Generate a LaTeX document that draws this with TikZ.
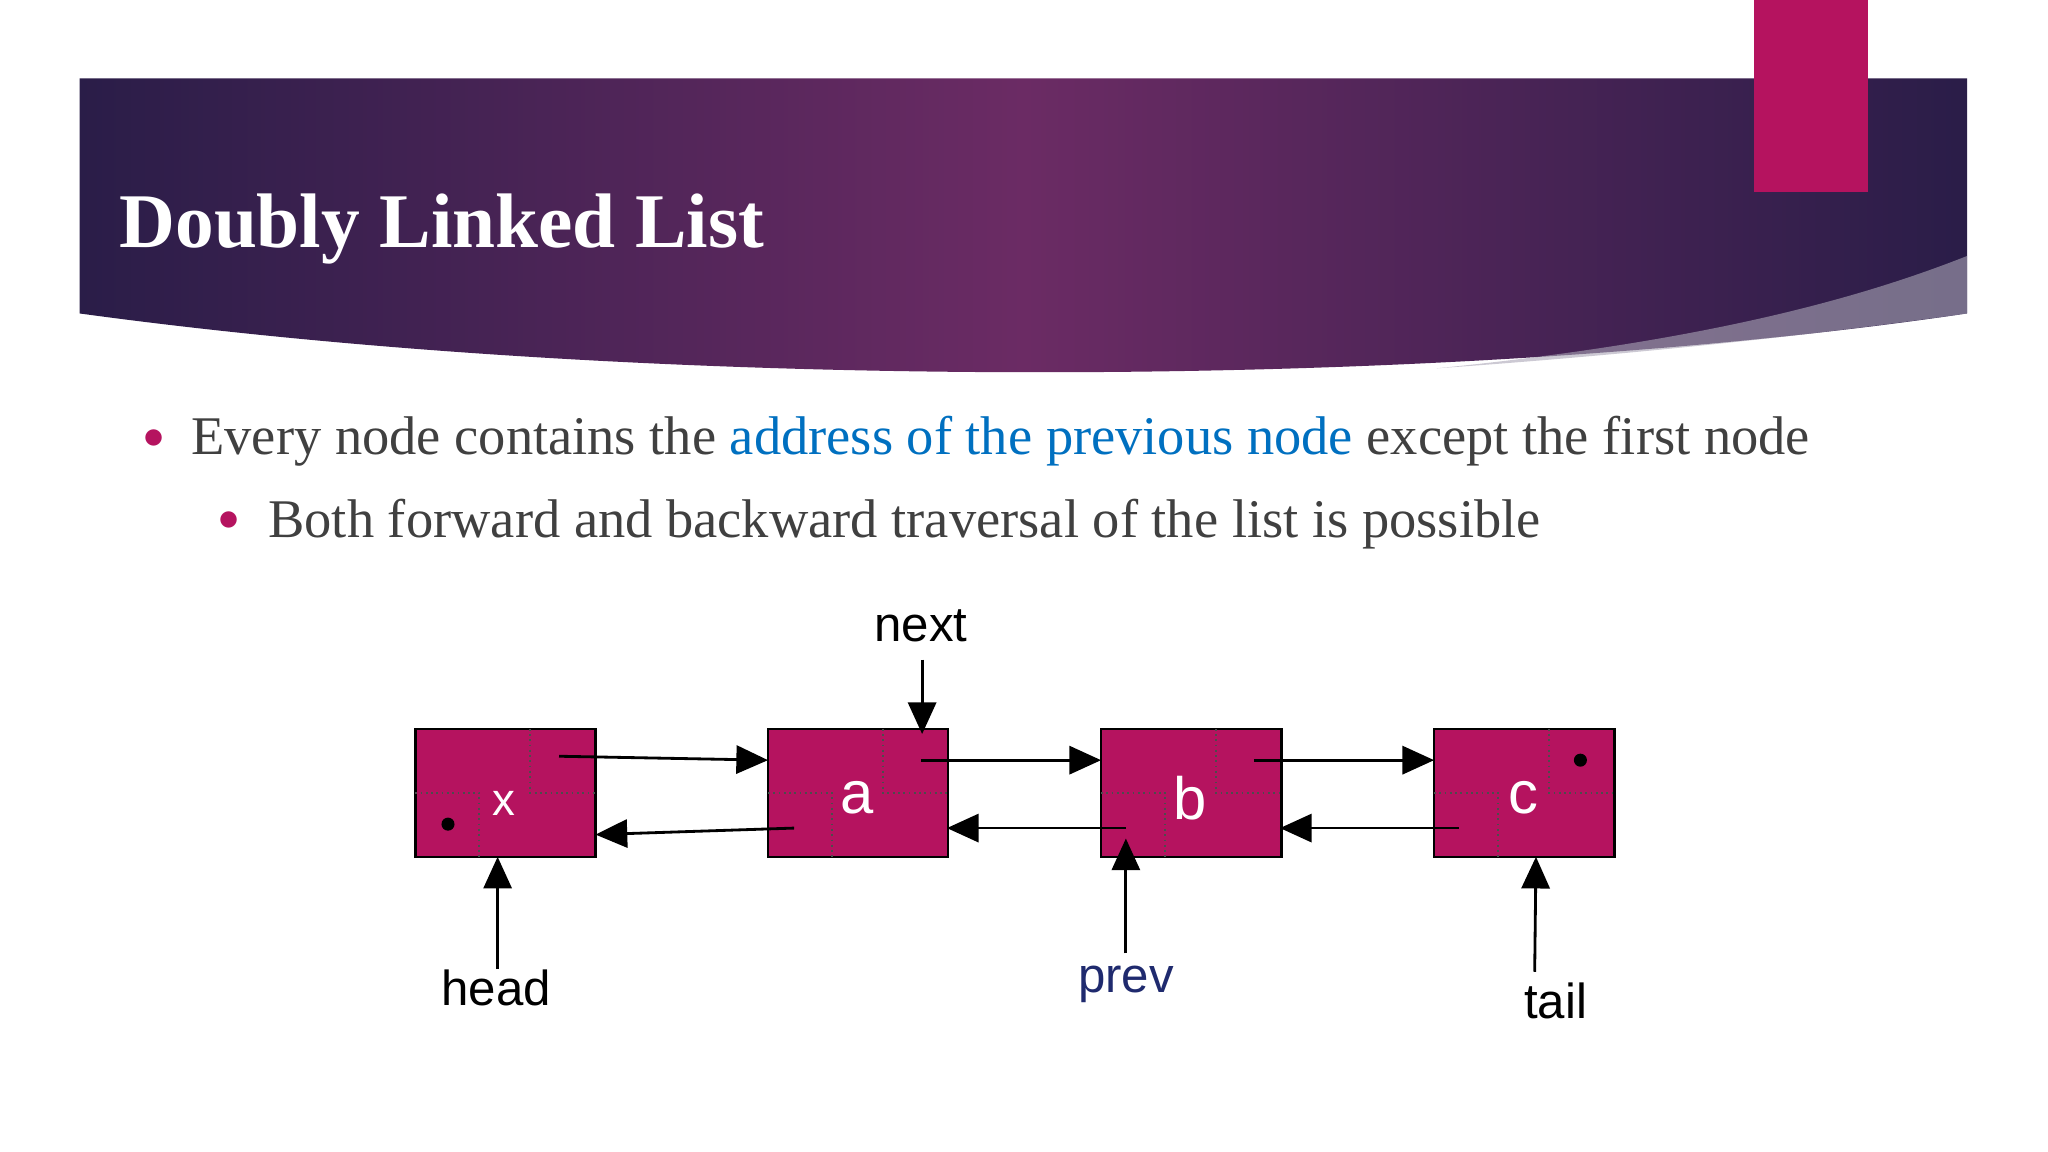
\documentclass[tikz,border=0pt]{standalone}
\usepackage{fontspec}
\setmainfont{Liberation Serif}
\setsansfont{Liberation Sans}
\usetikzlibrary{arrows.meta}
\definecolor{nodecol}{HTML}{B5135F}
\definecolor{dkp}{HTML}{2A1D48}
\definecolor{midp}{HTML}{6B2B64}
\definecolor{bodyt}{HTML}{404040}
\definecolor{bluet}{HTML}{0070C0}
\definecolor{prevc}{HTML}{1F2A6E}
\tikzset{
  cell/.style={draw=black, fill=nodecol, line width=0.7pt},
  sub/.style={draw=black!70, densely dotted, line width=0.5pt},
  ptr/.style={-{Triangle[length=9pt,width=8pt]}, line width=0.8pt},
  lab/.style={font=\sffamily\fontsize{14}{16}\selectfont},
  val/.style={font=\sffamily\fontsize{13}{15}\selectfont, text=white},
}
\begin{document}
\begin{tikzpicture}[x=0.01306cm,y=-0.01306cm]
\useasboundingbox (0,0) rectangle (1568,882);
\fill[white] (0,0) rectangle (1568,882);
% header band
\shade[left color=dkp, right color=dkp, middle color=midp]
  (61,60) -- (1506,60) -- (1506,240) .. controls (1100,300) and (500,300) .. (61,240) -- cycle;
\fill[white!60!dkp, opacity=0.6] (1506,196) -- (1506,240) .. controls (1350,262) and (1200,275) .. (1100,282) .. controls (1300,262) and (1420,230) .. (1506,196) -- cycle;
\fill[nodecol] (1343,0) rectangle (1430,147);
\node[anchor=west, text=white, font=\bfseries\fontsize{22}{26}\selectfont] (title) at (82,175) {Doubly Linked List};
% bullets
\node[anchor=west, text=nodecol, font=\fontsize{12}{14}\selectfont] (b1) at (100,336) {$\bullet$};
\node[anchor=west, text=bodyt, font=\fontsize{15.5}{18}\selectfont] (t1) at (137,338) {Every node contains the \textcolor{bluet}{address of the previous node} except the first node};
\node[anchor=west, text=nodecol, font=\fontsize{12}{14}\selectfont] (b2) at (158,399) {$\bullet$};
\node[anchor=west, text=bodyt, font=\fontsize{15.5}{18}\selectfont] (t2) at (196,401) {Both forward and backward traversal of the list is possible};
% list nodes
\foreach \n/\x/\v in {nx/318/x, na/588/a, nb/843/b, nc/1098/c}{
  \draw[cell] (\x,558) rectangle ++(138,98);
  \draw[sub] (\x+88,558) -- (\x+88,607) -- (\x+138,607);
  \draw[sub] (\x,607) -- (\x+49,607) -- (\x+49,656);
  \coordinate (\n-l) at (\x,0);
}
\node[val] (vx) at (386,615) {x};
\node[val, font=\sffamily\fontsize{17}{19}\selectfont] (va) at (656,611) {a};
\node[val, font=\sffamily\fontsize{17}{19}\selectfont] (vb) at (911,611) {b};
\node[val, font=\sffamily\fontsize{17}{19}\selectfont] (vc) at (1166,611) {c};
\fill (343,631) circle (5);
\fill (1210,582) circle (5);
% next pointers
\coordinate (s1) at (428,579); \coordinate (e1) at (588,582);
\coordinate (s2) at (705,582); \coordinate (e2) at (843,582);
\coordinate (s3) at (960,582); \coordinate (e3) at (1098,582);
\draw[ptr] (s1) -- (e1);
\draw[ptr] (s2) -- (e2);
\draw[ptr] (s3) -- (e3);
% prev pointers
\coordinate (p1) at (608,634); \coordinate (q1) at (456,639);
\coordinate (p2) at (862,634); \coordinate (q2) at (725,634);
\coordinate (p3) at (1117,634); \coordinate (q3) at (980,634);
\draw[ptr] (p1) -- (q1);
\draw[ptr] (p2) -- (q2);
\draw[ptr] (p3) -- (q3);
% labels
\node[lab] (next) at (705,479) {next};
\node[lab] (head) at (380,756) {head};
\node[lab, text=prevc] (prev) at (862,754) {prev};
\node[lab] (tail) at (1191,766) {tail};
\coordinate (nexte) at (706,562);
\coordinate (heade) at (381,656);
\coordinate (preve) at (862,642);
\coordinate (taile) at (1176,656);
\draw[ptr] (706,505) -- (nexte);
\draw[ptr] (381,742) -- (heade);
\draw[ptr] (862,730) -- (preve);
\draw[ptr] (1175,744) -- (taile);
\end{tikzpicture}
\end{document}
